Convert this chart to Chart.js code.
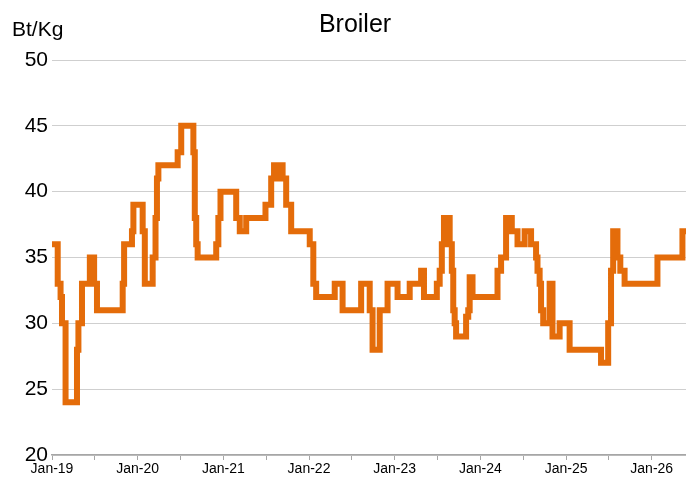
<!DOCTYPE html>
<html>
<head>
<meta charset="utf-8">
<script src="https://cdn.jsdelivr.net/npm/chart.js@4.4.1/dist/chart.umd.min.js"></script>
<style>
    html, body { margin: 0; padding: 0; background: #fff; }
</style>
</head>
<body>
<canvas id="broilerChart" width="686" height="481"></canvas>
<script>
// months since Jan-19 at which the price changes, and the price from then on
const monthOffsets = [
    0, 0.8, 1.2, 1.4, 1.9, 3.5, 3.7, 4.2, 5.3, 5.5, 5.7, 5.9, 6.3,
    9.9, 10.1, 11.2, 11.4, 12.7, 13.0, 14.1, 14.5, 14.7, 14.9, 17.6, 18.1,
    19.8, 20.0, 20.2, 20.4, 23.0, 23.3, 23.6, 25.8, 26.3, 27.2, 29.9, 30.7,
    31.1, 31.6, 31.9, 32.3, 32.8, 33.5, 36.1, 36.6, 37.0, 39.6, 40.7,
    43.3, 44.5, 44.9, 45.9, 47.0, 48.4, 50.1, 51.7, 52.1, 53.9, 54.3, 54.6,
    54.9, 55.7, 56.0, 56.2, 56.4, 56.6, 58.0, 58.3, 58.5, 58.9, 62.4, 62.9,
    63.6, 64.4, 65.2, 66.2, 67.1, 67.8, 68.0, 68.3, 68.5, 68.8, 69.7, 70.1,
    71.1, 72.5, 76.9, 77.9, 78.3, 78.6, 79.2, 79.6, 80.2, 84.8, 88.3, 88.8
];
const prices = [
    36, 33, 32, 30, 24, 28, 30, 33, 35, 33, 35, 33, 31,
    33, 36, 37, 39, 37, 33, 35, 38, 41, 42, 43, 45,
    43, 38, 36, 35, 36, 38, 40, 38, 37, 38, 39, 41,
    42, 41, 42, 41, 39, 37, 36, 33, 32, 33, 31,
    33, 31, 28, 31, 33, 32, 33, 34, 32, 33, 34, 36,
    38, 36, 34, 31, 30, 29, 30.5, 31, 33.5, 32, 34, 35,
    38, 37, 36, 37, 36, 35, 34, 33, 31, 30, 33, 29,
    30, 28, 27, 30, 34, 37, 35, 34, 33, 35, 37, 37
];
const xTickLabels = ['Jan-19', 'Jan-20', 'Jan-21', 'Jan-22', 'Jan-23', 'Jan-24', 'Jan-25', 'Jan-26'];
const yTicks = [20, 25, 30, 35, 40, 45, 50];

const font = '"Liberation Sans", Arial, sans-serif';

const headerText = {
    id: 'headerText',
    afterDraw(chart) {
        const c = chart.ctx;
        c.save();
        c.fillStyle = '#000';
        c.textBaseline = 'alphabetic';
        c.font = '25px ' + font;
        c.textAlign = 'center';
        c.fillText('Broiler', 355, 32);
        c.font = '21px ' + font;
        c.textAlign = 'left';
        c.fillText('Bt/Kg', 12, 36);
        c.restore();
    }
};

new Chart(document.getElementById('broilerChart'), {
    type: 'line',
    data: {
        datasets: [{
            data: monthOffsets.map((m, i) => ({ x: m, y: prices[i] })),
            borderColor: '#E46C0A',
            borderWidth: 6,
            pointRadius: 0,
            stepped: true,
            fill: false
        }]
    },
    options: {
        responsive: false,
        animation: false,
        devicePixelRatio: 1,
        layout: { padding: { top: 60, right: 0, left: 0, bottom: 0 } },
        plugins: { legend: { display: false }, tooltip: { enabled: false } },
        scales: {
            x: {
                type: 'linear',
                min: 0,
                max: 88.8,
                afterFit: s => { s.height = 26; },
                ticks: {
                    stepSize: 6,
                    includeBounds: false,
                    autoSkip: false,
                    maxRotation: 0,
                    padding: 1,
                    color: '#000',
                    font: { family: font, size: 14 },
                    callback: v => v % 12 === 0 ? xTickLabels[v / 12] : ''
                },
                grid: { drawOnChartArea: false, drawTicks: true, tickLength: 5, color: '#a6a6a6' },
                border: { display: true, color: '#a6a6a6', width: 1.5 }
            },
            y: {
                min: yTicks[0],
                max: yTicks[yTicks.length - 1],
                afterFit: s => { s.width = 52; },
                afterBuildTicks: s => { s.ticks = yTicks.map(v => ({ value: v })); },
                ticks: {
                    padding: 4,
                    color: '#000',
                    font: { family: font, size: 21 }
                },
                grid: { color: '#cfcfcf', lineWidth: 1, drawTicks: false },
                border: { display: false }
            }
        }
    },
    plugins: [headerText]
});
</script>
</body>
</html>
